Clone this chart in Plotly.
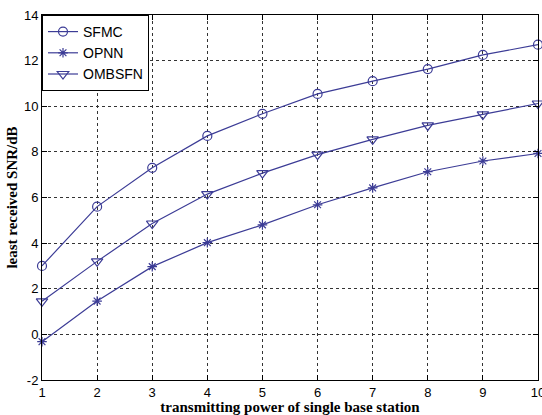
import plotly.graph_objects as go

x_vals = [1, 2, 3, 4, 5, 6, 7, 8, 9, 10]
sfmc = [3.0, 5.6, 7.3, 8.7, 9.67, 10.54, 11.1, 11.63, 12.25, 12.7]
opnn = [-0.32, 1.46, 2.97, 4.02, 4.8, 5.68, 6.42, 7.13, 7.6, 7.93]
ombsfn = [1.45, 3.2, 4.86, 6.15, 7.07, 7.88, 8.55, 9.16, 9.64, 10.12]
series_names = ["SFMC", "OPNN", "OMBSFN"]
x_ticks = [1, 2, 3, 4, 5, 6, 7, 8, 9, 10]
y_ticks = [-2, 0, 2, 4, 6, 8, 10, 12, 14]
y_tick_text = ["-2", "0", "2", "4", "6", "8", "10", "12", "14"]

color = "#3c3c96"
fig = go.Figure()
for name, vals, sym, size in [
    (series_names[0], sfmc, "circle-open", 9),
    (series_names[1], opnn, "asterisk-open", 8),
    (series_names[2], ombsfn, "triangle-down-open", 10),
]:
    fig.add_trace(go.Scatter(
        x=x_vals, y=vals, name=name, mode="lines+markers",
        line=dict(color=color, width=1.2),
        marker=dict(symbol=sym, size=size, color=color, line=dict(color=color, width=1.2)),
        cliponaxis=False,
    ))

axis_common = dict(
    showline=True, linecolor="black", linewidth=1, mirror="ticks",
    ticks="inside", ticklen=5, tickcolor="black",
    showgrid=True, gridcolor="#333333", griddash="dot", gridwidth=1,
    zeroline=False, automargin=False, ticklabeloverflow="allow",
    tickfont=dict(family="Liberation Sans, Arial", size=13, color="black"),
)

fig.update_layout(
    width=542, height=415,
    margin=dict(l=42, r=4, t=15, b=35),
    paper_bgcolor="white", plot_bgcolor="white",
    showlegend=True,
    legend=dict(
        x=0, y=1, xanchor="left", yanchor="top",
        bgcolor="white", bordercolor="black", borderwidth=1,
        font=dict(family="Liberation Sans, Arial", size=14, color="black"),
        tracegroupgap=0, itemwidth=30,
    ),
    xaxis=dict(
        range=[1, 10], tickvals=x_ticks,
        title=dict(text="<b>transmitting power of single base station</b>",
                   font=dict(family="Liberation Serif, Times New Roman", size=15, color="black"),
                   standoff=0),
        **axis_common,
    ),
    yaxis=dict(
        range=[-2, 14], tickvals=y_ticks, ticktext=y_tick_text,
        title=dict(text="<b>least received SNR/dB</b>",
                   font=dict(family="Liberation Serif, Times New Roman", size=15, color="black"),
                   standoff=2),
        **axis_common,
    ),
)

fig.write_html("out.html", config={"displayModeBar": False},
               post_script="document.body.style.margin='0';")
